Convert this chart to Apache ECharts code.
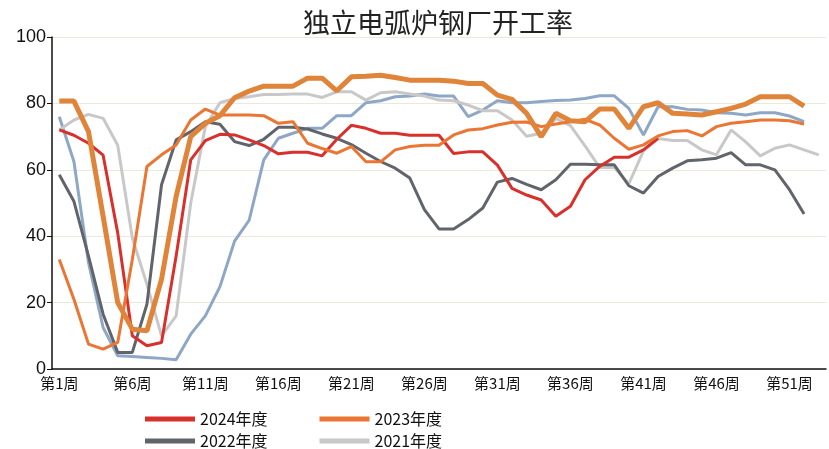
<!DOCTYPE html>
<html>
<head>
<meta charset="utf-8">
<script src="https://cdn.jsdelivr.net/npm/echarts@6/dist/echarts.min.js"></script>
<style>
html,body{margin:0;padding:0;background:#fff;}
#chart{width:829px;height:449px;}
</style>
</head>
<body>
<div id="chart"></div>
<script>
// 周次
var weeks = [];
for (var i = 1; i <= 53; i++) { weeks.push('第' + i + '周'); }

var yTicks = [0, 20, 40, 60, 80, 100];

var s2024 = [72,70.4,68,64.4,41,10,7,8,34,63,
    68.8,70.7,70.5,69,67.3,64.8,65.3,65.3,64.2,69.2,
    73.4,72.5,71,71,70.4,70.4,70.4,64.9,65.4,65.4,
    61.4,54.4,52.4,50.9,46,49,57,61,63.8,63.8,
    66,69.5,null,null,null,null,null,null,null,null,
    null,null,null];
var s2023 = [33,21,7.5,6,8,33,61,64.5,67.5,75,
    78.3,76.5,76.5,76.5,76.3,74,74.5,68,66.4,65,
    67,62.4,62.4,66,67,67.4,67.4,70.5,72,72.4,
    73.5,74.3,74.4,73,73.8,74.5,75.2,73.5,69.5,66.2,
    67.5,70.2,71.5,71.8,70.2,73,74,74.5,75,75,
    74.8,73.8,null];
var s2022 = [58.5,50.5,34,16.5,5,5,19.5,55.5,69,71.5,
    74.5,73.7,68.5,67.3,69.2,72.8,72.8,72.3,70.8,69.5,
    67.6,65,62.5,60.5,57.5,48,42.2,42.2,45,48.5,
    56.3,57.4,55.6,54,57,61.7,61.7,61.5,61.5,55.2,
    53,58,60.5,62.7,63,63.5,65.2,61.5,61.5,60,
    54,46.7,null];
var s2021 = [72,75,76.7,75.5,67.4,39.5,25.5,10,16,50,
    73,80.2,81.5,82,82.7,82.7,82.8,82.8,81.8,83.5,
    83.5,81,83.2,83.5,82.8,82.2,81,80.8,79.5,77.8,
    77.8,75,70.1,71,75.5,73.3,67.2,60.7,60.7,55.8,
    65.7,69.4,68.8,68.8,66,64.5,72,68.4,64.2,66.5,
    67.5,66,64.5];
var s2020 = [76,62.5,32,12.5,4,3.8,3.5,3.2,2.8,10.5,
    16,24.8,38.5,44.8,63,69.5,71,72.5,72.5,76.3,
    76.3,80.2,80.8,82,82.2,82.8,82.2,82.2,76,78,
    80.8,80.2,80.2,80.6,80.9,81,81.5,82.3,82.3,78.5,
    70.5,79,79,78.2,78,77.2,77,76.5,77.2,77.2,
    76.2,74.5,null];
var s2025 = [80.7,80.7,71.5,46,20,12,11.5,27,52,70,
    74,76.3,81.7,83.7,85.2,85.2,85.2,87.6,87.6,83.8,
    88,88.2,88.5,87.8,87,87,87,86.7,86,86,
    82.5,81.2,77,70,77,74.8,74.5,78.3,78.3,72.5,
    79,80.2,77,76.8,76.5,77.5,78.5,79.8,82,82,
    82,79.2,null];

var names = ['2024年度', '2023年度', '2022年度', '2021年度', '2020年度', '2025年度'];

var myChart = echarts.init(document.getElementById('chart'));

function line(name, data, color, width, z) {
    return {
        name: name,
        type: 'line',
        data: data,
        symbol: 'none',
        z: z,
        animation: false,
        lineStyle: { color: color, width: width },
        itemStyle: { color: color }
    };
}

var legendText = {
    fontSize: 16,
    color: '#111',
    fontFamily: 'Liberation Sans Narrow, Noto Sans CJK SC, sans-serif'
};

var option = {
    backgroundColor: '#fff',
    title: {
        text: '独立电弧炉钢厂开工率',
        left: 298,
        top: 4,
        textStyle: {
            fontSize: 27,
            fontWeight: 'normal',
            color: '#222',
            fontFamily: 'Noto Sans CJK SC'
        }
    },
    legend: [{
        data: [names[0], names[1]],
        left: 140,
        top: 406,
        itemWidth: 50,
        itemHeight: 5,
        itemGap: 52,
        icon: 'rect',
        textStyle: legendText
    }, {
        data: [names[2], names[3]],
        left: 140,
        top: 428,
        itemWidth: 50,
        itemHeight: 5,
        itemGap: 52,
        icon: 'rect',
        textStyle: legendText
    }],
    grid: {
        left: 52,
        right: 3,
        top: 37,
        bottom: 80
    },
    xAxis: {
        type: 'category',
        data: weeks,
        boundaryGap: true,
        axisLine: { lineStyle: { color: '#111', width: 1.5 } },
        axisTick: { interval: 4, length: 6, lineStyle: { color: '#111' } },
        axisLabel: {
            interval: 4,
            margin: 7,
            fontSize: 15,
            color: '#111',
            fontFamily: 'Liberation Sans Narrow, Noto Sans CJK SC, sans-serif'
        },
        splitLine: { show: false }
    },
    yAxis: {
        type: 'value',
        min: yTicks[0],
        max: yTicks[yTicks.length - 1],
        interval: 20,
        axisLine: { show: true, lineStyle: { color: '#111', width: 1.5 } },
        axisTick: { show: true, length: 5, lineStyle: { color: '#111' } },
        axisLabel: {
            fontSize: 18,
            color: '#111',
            margin: 6,
            fontFamily: 'Liberation Sans, sans-serif'
        },
        splitLine: { show: true, lineStyle: { color: '#ebe8dc', width: 1 } }
    },
    series: [
        line(names[4], s2020, '#8fa7c6', 3, 1),
        line(names[3], s2021, '#c8c8c8', 3, 2),
        line(names[2], s2022, '#61656b', 3, 3),
        line(names[0], s2024, '#d9302c', 3, 4),
        line(names[1], s2023, '#eb7532', 3, 5),
        line(names[5], s2025, '#e0843a', 5, 6)
    ]
};

if (option && typeof option === "object") {
    myChart.setOption(option, true);
}
</script>
</body>
</html>
